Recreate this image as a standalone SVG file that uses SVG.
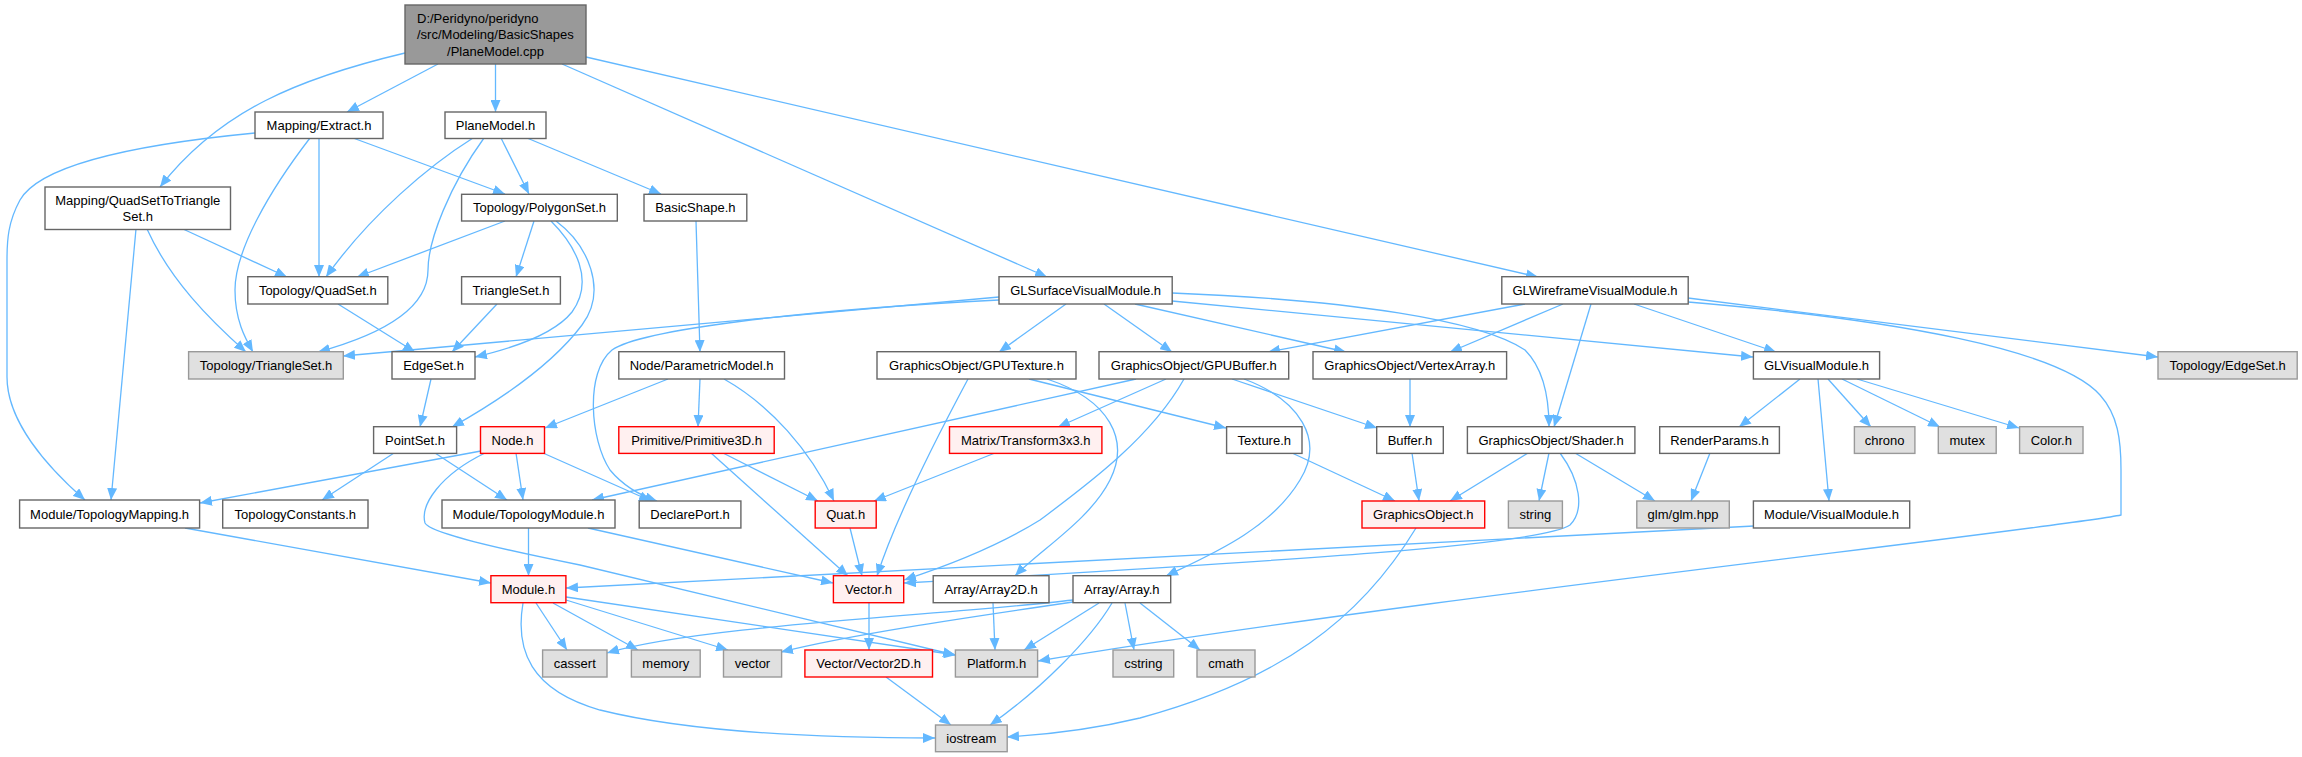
<svg xmlns="http://www.w3.org/2000/svg" width="2302" height="757" viewBox="0 0 2302 757">
<style>
text{font-family:"Liberation Sans",Arial,sans-serif;font-size:13px;fill:#000;text-anchor:middle}
.n rect{fill:#fff;stroke:#666;stroke-width:1.4}
.x rect{fill:#E0E0E0;stroke:#999;stroke-width:1.4}
.r rect{fill:#FFF0F0;stroke:#F00;stroke-width:1.4}
.root rect{fill:#999;stroke:#666;stroke-width:1.4}
.e{fill:none;stroke:#63B8FF;stroke-width:1.3;marker-end:url(#a)}
</style>
<defs>
<marker id="a" viewBox="0 0 12 10" refX="12" refY="5" markerWidth="12" markerHeight="10" markerUnits="userSpaceOnUse" orient="auto">
<path d="M0,0L12,5L0,10z" fill="#63B8FF"/>
</marker>
</defs>
<rect width="2302" height="757" fill="#fff"/>
<g id="edges">
<path class="e" d="M438,64L347,112"/>
<path class="e" d="M495.5,64L495.5,112"/>
<path class="e" d="M405,53C300,78 220,110 160,187"/>
<path class="e" d="M562,64L1047,277"/>
<path class="e" d="M586,57L1538,277"/>
<path class="e" d="M255,133C130,145 40,165 20,200C8,222 7,240 7,260L7,377C7,420 45,465 85,500"/>
<path class="e" d="M310,138C270,190 235,250 235,290C235,320 245,338 253,352"/>
<path class="e" d="M319,138L319,277"/>
<path class="e" d="M353,138L505,194"/>
<path class="e" d="M473,138C430,165 370,215 326,277"/>
<path class="e" d="M484,138C450,185 428,240 428,270C428,310 380,335 318,352"/>
<path class="e" d="M501,138L529,194"/>
<path class="e" d="M527,138L661,194"/>
<path class="e" d="M136,229L111,500"/>
<path class="e" d="M147,229C170,280 210,320 246,352"/>
<path class="e" d="M183,229L287,277"/>
<path class="e" d="M505,221L357,277"/>
<path class="e" d="M534,221L516,277"/>
<path class="e" d="M551,221C575,245 595,280 572,312C552,337 505,350 475,357"/>
<path class="e" d="M556,221C588,245 608,290 582,325C552,365 500,400 452,427"/>
<path class="e" d="M696,221L700,352"/>
<path class="e" d="M338,304L415,352"/>
<path class="e" d="M497,304L452,352"/>
<path class="e" d="M431,379L420,427"/>
<path class="e" d="M999,297L343,356"/>
<path class="e" d="M999,300C800,310 640,330 612,350C585,372 590,440 610,470C625,488 645,497 657,501"/>
<path class="e" d="M1066,304L999,352"/>
<path class="e" d="M1104,304L1172,352"/>
<path class="e" d="M1135,304L1346,352"/>
<path class="e" d="M1172,293C1350,300 1480,320 1525,350C1545,370 1549,400 1549,427"/>
<path class="e" d="M1172,301L1753,357"/>
<path class="e" d="M1525,304L1268,352"/>
<path class="e" d="M1563,304L1450,352"/>
<path class="e" d="M1591,304L1554,427"/>
<path class="e" d="M1634,304L1776,352"/>
<path class="e" d="M1688,298L2158,357"/>
<path class="e" d="M1688,302C1900,320 2060,350 2100,395C2118,415 2121,440 2121,470L2121,515C2050,530 1400,600 1038,661"/>
<path class="e" d="M968,379C930,450 895,520 877,576"/>
<path class="e" d="M1029,379L1226,428"/>
<path class="e" d="M1047,379C1110,400 1130,440 1110,480C1090,520 1040,550 1015,576"/>
<path class="e" d="M1136,379L592,500"/>
<path class="e" d="M1184,379C1150,440 1080,490 1040,520C1000,545 950,565 904,580"/>
<path class="e" d="M1166,379L1058,427"/>
<path class="e" d="M1232,379L1377,428"/>
<path class="e" d="M1244,379C1300,400 1325,440 1300,480C1270,530 1210,555 1166,576"/>
<path class="e" d="M1410,379L1410,427"/>
<path class="e" d="M1292,453L1395,501"/>
<path class="e" d="M1412,453L1419,501"/>
<path class="e" d="M1528,453L1450,501"/>
<path class="e" d="M1549,453L1539,501"/>
<path class="e" d="M1575,453L1655,501"/>
<path class="e" d="M1560,453C1580,480 1585,510 1570,525C1540,545 1300,560 904,583"/>
<path class="e" d="M1710,453L1691,501"/>
<path class="e" d="M1800,379L1739,427"/>
<path class="e" d="M1818,379L1829,501"/>
<path class="e" d="M1828,379L1871,427"/>
<path class="e" d="M1842,379L1940,427"/>
<path class="e" d="M1857,379L2019,428"/>
<path class="e" d="M1754,526L566,588"/>
<path class="e" d="M1416,528C1360,620 1280,680 1140,718C1090,730 1040,735 1007,737"/>
<path class="e" d="M668,379L545,428"/>
<path class="e" d="M700,379L698,427"/>
<path class="e" d="M724,379C770,405 810,450 834,501"/>
<path class="e" d="M481,451L200,503"/>
<path class="e" d="M516,453L523,500"/>
<path class="e" d="M543,453L651,501"/>
<path class="e" d="M485,453C440,475 420,505 425,523C430,532 480,545 580,565L955,655"/>
<path class="e" d="M185,528L491,583"/>
<path class="e" d="M528.5,528L528.5,576"/>
<path class="e" d="M588,528L833,583"/>
<path class="e" d="M435,453L507,500"/>
<path class="e" d="M394,453L322,500"/>
<path class="e" d="M723,453L818,501"/>
<path class="e" d="M711,453L848,576"/>
<path class="e" d="M995,453L874,501"/>
<path class="e" d="M850,528L862,576"/>
<path class="e" d="M869,603L869,650"/>
<path class="e" d="M886,677L951,725"/>
<path class="e" d="M993,603L995,650"/>
<path class="e" d="M1073,600C950,615 700,625 607,653"/>
<path class="e" d="M1073,602C950,620 850,635 781,652"/>
<path class="e" d="M1099,603L1024,650"/>
<path class="e" d="M1125,603L1134,650"/>
<path class="e" d="M1140,603L1200,650"/>
<path class="e" d="M1112,603C1090,640 1040,690 990,725"/>
<path class="e" d="M536,603L567,650"/>
<path class="e" d="M553,603L638,650"/>
<path class="e" d="M566,600L728,650"/>
<path class="e" d="M566,597L956,655"/>
<path class="e" d="M523,603C515,650 530,690 600,710C700,735 850,738 935,738"/>
</g>
<g id="n_root" class="root"><rect x="405" y="5" width="181" height="59"/><text x="417" y="23" style="text-anchor:start">D:/Peridyno/peridyno</text><text x="417" y="39" style="text-anchor:start">/src/Modeling/BasicShapes</text><text x="495.5" y="55.5">/PlaneModel.cpp</text></g>
<g id="n_extract" class="n"><rect x="255" y="112" width="128" height="26.5"/><text x="319" y="130">Mapping/Extract.h</text></g>
<g id="n_planemodel" class="n"><rect x="445" y="112" width="101" height="26.5"/><text x="495.5" y="130">PlaneModel.h</text></g>
<g id="n_quadsettotri" class="n"><rect x="45" y="187" width="185.5" height="42.5"/><text x="137.8" y="204.5">Mapping/QuadSetToTriangle</text><text x="137.8" y="220.5">Set.h</text></g>
<g id="n_polygonset" class="n"><rect x="461.6" y="194.3" width="155.7" height="26.7"/><text x="539.5" y="212">Topology/PolygonSet.h</text></g>
<g id="n_basicshape" class="n"><rect x="644" y="194.3" width="102.8" height="26.7"/><text x="695.4" y="212">BasicShape.h</text></g>
<g id="n_quadset" class="n"><rect x="247.8" y="276.7" width="140" height="27.3"/><text x="317.8" y="295">Topology/QuadSet.h</text></g>
<g id="n_trianglesetb" class="n"><rect x="461.6" y="276.7" width="98.8" height="27.3"/><text x="511" y="295">TriangleSet.h</text></g>
<g id="n_glsurface" class="n"><rect x="999" y="276.7" width="173.2" height="27.3"/><text x="1085.6" y="295">GLSurfaceVisualModule.h</text></g>
<g id="n_glwireframe" class="n"><rect x="1501.8" y="276.7" width="186.4" height="27.3"/><text x="1595" y="295">GLWireframeVisualModule.h</text></g>
<g id="n_topotriangleset" class="x"><rect x="188.6" y="351.7" width="154.7" height="27.3"/><text x="266" y="370">Topology/TriangleSet.h</text></g>
<g id="n_edgeset" class="n"><rect x="392" y="351.7" width="83" height="27.3"/><text x="433.5" y="370">EdgeSet.h</text></g>
<g id="n_parametric" class="n"><rect x="618.8" y="351.7" width="165.7" height="27.3"/><text x="701.6" y="370">Node/ParametricModel.h</text></g>
<g id="n_gputexture" class="n"><rect x="877" y="351.7" width="199" height="27.3"/><text x="976.5" y="370">GraphicsObject/GPUTexture.h</text></g>
<g id="n_gpubuffer" class="n"><rect x="1099" y="351.7" width="189.7" height="27.3"/><text x="1193.8" y="370">GraphicsObject/GPUBuffer.h</text></g>
<g id="n_vertexarray" class="n"><rect x="1313" y="351.7" width="193.6" height="27.3"/><text x="1409.8" y="370">GraphicsObject/VertexArray.h</text></g>
<g id="n_glvisual" class="n"><rect x="1753.4" y="351.7" width="126.2" height="27.3"/><text x="1816.5" y="370">GLVisualModule.h</text></g>
<g id="n_topoedgeset" class="x"><rect x="2158" y="351.7" width="139.2" height="27.3"/><text x="2227.6" y="370">Topology/EdgeSet.h</text></g>
<g id="n_pointset" class="n"><rect x="373.6" y="426.7" width="83" height="26.7"/><text x="415" y="444.5">PointSet.h</text></g>
<g id="n_node" class="r"><rect x="480.5" y="426.7" width="64" height="26.7"/><text x="512.5" y="444.5">Node.h</text></g>
<g id="n_primitive3d" class="r"><rect x="618.8" y="426.7" width="155.4" height="26.7"/><text x="696.5" y="444.5">Primitive/Primitive3D.h</text></g>
<g id="n_transform3x3" class="r"><rect x="949.5" y="426.7" width="152.4" height="26.7"/><text x="1025.7" y="444.5">Matrix/Transform3x3.h</text></g>
<g id="n_texture" class="n"><rect x="1226.6" y="426.7" width="75.4" height="26.7"/><text x="1264.3" y="444.5">Texture.h</text></g>
<g id="n_buffer" class="n"><rect x="1376.7" y="426.7" width="66.6" height="26.7"/><text x="1410" y="444.5">Buffer.h</text></g>
<g id="n_shader" class="n"><rect x="1467.4" y="426.7" width="167.5" height="26.7"/><text x="1551" y="444.5">GraphicsObject/Shader.h</text></g>
<g id="n_renderparams" class="n"><rect x="1659.7" y="426.7" width="119.7" height="26.7"/><text x="1719.5" y="444.5">RenderParams.h</text></g>
<g id="n_chrono" class="x"><rect x="1854.4" y="426.7" width="60.5" height="26.7"/><text x="1884.6" y="444.5">chrono</text></g>
<g id="n_mutex" class="x"><rect x="1938.3" y="426.7" width="57.9" height="26.7"/><text x="1967.2" y="444.5">mutex</text></g>
<g id="n_color" class="x"><rect x="2019.6" y="426.7" width="63.4" height="26.7"/><text x="2051.3" y="444.5">Color.h</text></g>
<g id="n_topomapping" class="n"><rect x="19.6" y="500" width="180" height="28"/><text x="109.6" y="518.5">Module/TopologyMapping.h</text></g>
<g id="n_topoconstants" class="n"><rect x="222.7" y="500" width="145.3" height="28"/><text x="295.3" y="518.5">TopologyConstants.h</text></g>
<g id="n_topomodule" class="n"><rect x="442" y="500" width="173" height="28"/><text x="528.5" y="518.5">Module/TopologyModule.h</text></g>
<g id="n_declareport" class="n"><rect x="639.2" y="501" width="101.7" height="27"/><text x="690" y="519">DeclarePort.h</text></g>
<g id="n_quat" class="r"><rect x="815.2" y="501" width="61" height="27"/><text x="845.7" y="519">Quat.h</text></g>
<g id="n_graphicsobject" class="r"><rect x="1362" y="501" width="122.7" height="27"/><text x="1423.3" y="519">GraphicsObject.h</text></g>
<g id="n_string" class="x"><rect x="1508.4" y="501" width="54" height="27"/><text x="1535.4" y="519">string</text></g>
<g id="n_glm" class="x"><rect x="1636.8" y="501" width="92.5" height="27"/><text x="1683" y="519">glm/glm.hpp</text></g>
<g id="n_visualmodule" class="n"><rect x="1753.4" y="501" width="156.3" height="27"/><text x="1831.5" y="519">Module/VisualModule.h</text></g>
<g id="n_module" class="r"><rect x="490.9" y="575.7" width="75" height="27"/><text x="528.4" y="593.7">Module.h</text></g>
<g id="n_vector" class="r"><rect x="833.4" y="575.7" width="70.3" height="27"/><text x="868.5" y="593.7">Vector.h</text></g>
<g id="n_array2d" class="n"><rect x="933.2" y="575.7" width="115.8" height="27"/><text x="991.1" y="593.7">Array/Array2D.h</text></g>
<g id="n_array" class="n"><rect x="1073" y="575.7" width="97.7" height="27"/><text x="1121.8" y="593.7">Array/Array.h</text></g>
<g id="n_cassert" class="x"><rect x="542.6" y="650" width="64.4" height="27"/><text x="574.8" y="668">cassert</text></g>
<g id="n_memory" class="x"><rect x="631.4" y="650" width="68.8" height="27"/><text x="665.8" y="668">memory</text></g>
<g id="n_vectorstd" class="x"><rect x="723.5" y="650" width="58.1" height="27"/><text x="752.5" y="668">vector</text></g>
<g id="n_vector2d" class="r"><rect x="804.9" y="650" width="127.6" height="27"/><text x="868.7" y="668">Vector/Vector2D.h</text></g>
<g id="n_platform" class="x"><rect x="955.4" y="650" width="82.2" height="27"/><text x="996.5" y="668">Platform.h</text></g>
<g id="n_cstring" class="x"><rect x="1113" y="650" width="60.7" height="27"/><text x="1143.3" y="668">cstring</text></g>
<g id="n_cmath" class="x"><rect x="1197" y="650" width="58" height="27"/><text x="1226" y="668">cmath</text></g>
<g id="n_iostream" class="x"><rect x="935.5" y="725" width="71.7" height="26.7"/><text x="971.3" y="742.5">iostream</text></g>
</svg>
